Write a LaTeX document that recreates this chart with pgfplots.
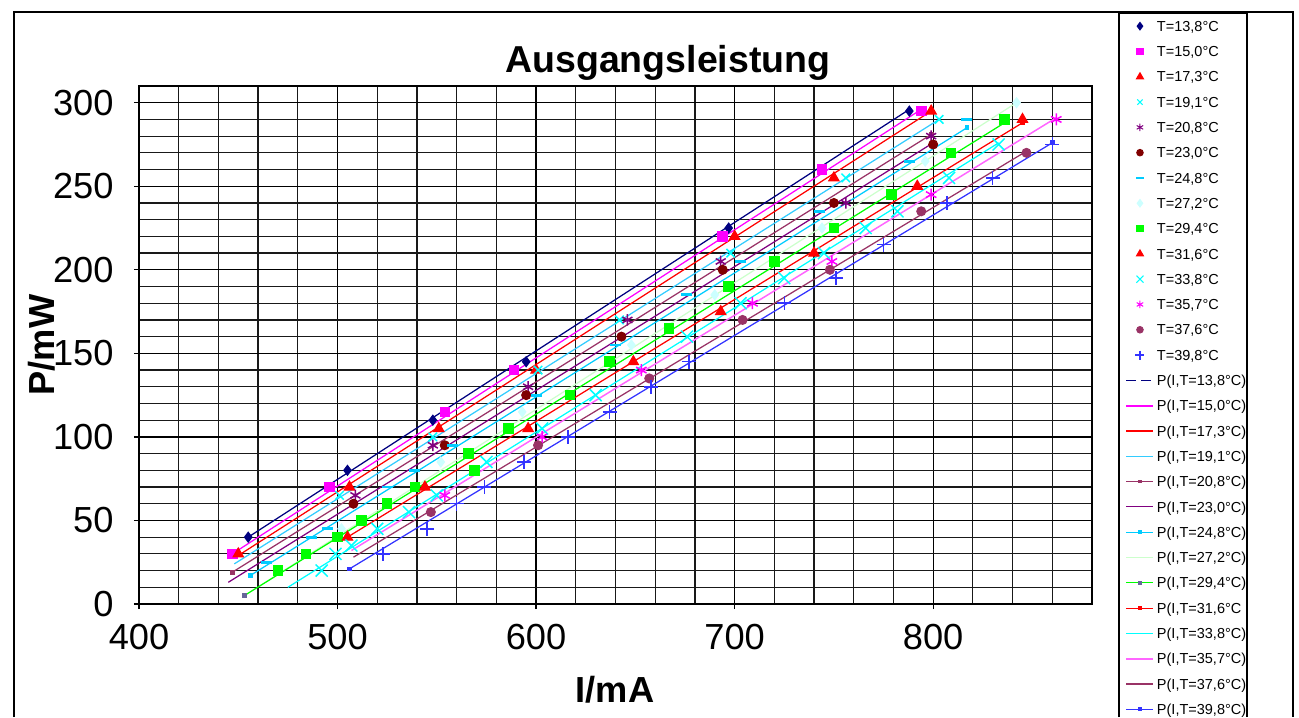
\documentclass[border=0pt]{standalone}
\usepackage{pgfplots}
\pgfplotsset{compat=1.18}
\usepackage{fontspec}
\setmainfont{Liberation Sans}

\definecolor{cnavy}{HTML}{000080}
\definecolor{cmag}{HTML}{FF00FF}
\definecolor{cred}{HTML}{FF0000}
\definecolor{ccyan}{HTML}{00FFFF}
\definecolor{csky}{HTML}{00CCFF}
\definecolor{csky2}{HTML}{33CCFF}
\definecolor{cpurple}{HTML}{800080}
\definecolor{cdred}{HTML}{800000}
\definecolor{cmauve}{HTML}{993366}
\definecolor{cpalecyan}{HTML}{CCFFFF}
\definecolor{cpalegreen}{HTML}{CCFFCC}
\definecolor{cgreen}{HTML}{00FF00}
\definecolor{cblue}{HTML}{3333FF}
\definecolor{cpink}{HTML}{FF66FF}
\definecolor{cgraymk}{HTML}{666699}

\begin{document}
\begin{tikzpicture}
\path[use as bounding box] (0,0) rectangle (519.6pt,286.8pt);
% chart frame and legend frame
\draw[line width=0.5pt] (5.6pt,0pt) -- (5.6pt,282pt) -- (517.2pt,282pt) -- (517.2pt,0pt);
\draw[line width=0.5pt] (447.6pt,0pt) -- (447.6pt,281.6pt) -- (498.8pt,281.6pt) -- (498.8pt,0pt);

\begin{axis}[
    at={(55.6pt,45.2pt)}, anchor=south west,
    scale only axis, width=381.2pt, height=207.2pt,
    xmin=400, xmax=880, ymin=0, ymax=310,
    xtick={400,500,600,700,800}, ytick={0,50,100,150,200,250,300},
    minor xtick={420,440,460,480,520,540,560,580,620,640,660,680,720,740,760,780,820,840,860},
    minor ytick={10,20,30,40,60,70,80,90,110,120,130,140,160,170,180,190,210,220,230,240,260,270,280,290,310},
    grid=both,
    major grid style={black, line width=0.5pt},
    minor grid style={black!90, line width=0.5pt},
    axis line style={black, line width=0.7pt},
    tick align=outside, tick pos=left,
    major tick length=2pt, minor tick length=0pt,
    tick style={black, line width=0.5pt},
    ticklabel style={font=\fontsize{14.5}{16}\selectfont},
    /pgf/number format/assume math mode=true,
    xticklabel style={anchor=north, inner sep=0pt, yshift=-6pt},
    yticklabel style={anchor=east, inner sep=0pt, xshift=-8pt},
    title={Ausgangsleistung},
    title style={at={(0.555,1.0153)}, anchor=center, yshift=0pt, font=\bfseries\fontsize{15}{17}\selectfont},
    xlabel={I/mA},
    xlabel style={at={(0.4995,-0.166)}, anchor=center, font=\bfseries\fontsize{14.5}{16}\selectfont},
    ylabel={P/mW},
    ylabel style={at={(-0.1018,0.5)}, anchor=center, font=\bfseries\fontsize{14.5}{16}\selectfont},
    legend style={at={(1.0283,1.1409)}, anchor=north west, draw=none, fill=none,
        inner xsep=2.4pt, inner ysep=0pt, row sep=0pt, column sep=1.0pt,
        font=\fontsize{5.8}{7}\selectfont,
        nodes={inner sep=0pt, text height=7.14pt, text depth=2.98pt}},
    legend cell align=left,
    legend image code/.code={\draw[mark repeat=2,mark phase=2] plot coordinates {(0pt,0pt) (5.4pt,0pt) (10.8pt,0pt)};},
]

% ---- fit lines ----
\addplot[forget plot, cnavy, line width=0.5pt] coordinates {(455,40) (788,296)};
\addplot[forget plot, cmag, line width=0.5pt] coordinates {(447,30) (794,296)};
\addplot[forget plot, cred, line width=0.5pt] coordinates {(450,29) (799,295)};
\addplot[forget plot, csky2, line width=0.5pt] coordinates {(448,24) (803,290)};
\addplot[forget plot, cmauve, line width=0.5pt, mark=square*, mark size=0.7pt] coordinates {(447,19) (799,281)};
\addplot[forget plot, cpurple, line width=0.5pt] coordinates {(445,13) (800,276)};
\addplot[forget plot, csky, line width=0.5pt, mark=square*, mark size=0.7pt] coordinates {(456,17) (817,285)};
\addplot[forget plot, cpalegreen, line width=0.5pt] coordinates {(461,11) (842,300)};
\addplot[forget plot, cgreen, line width=0.5pt, mark=square*, mark size=0.7pt, mark options={cgraymk}] coordinates {(453,5) (836,288)};
\addplot[forget plot, cred, line width=0.5pt, mark=square*, mark size=0.7pt] coordinates {(505,40) (845,288)};
\addplot[forget plot, ccyan, line width=0.5pt] coordinates {(475,10) (833,276)};
\addplot[forget plot, cpink, line width=0.6pt] coordinates {(507,32) (862,291)};
\addplot[forget plot, cmauve, line width=0.5pt] coordinates {(508,28) (847,271)};
\addplot[forget plot, cblue, line width=0.5pt, mark=square*, mark size=0.7pt] coordinates {(506,21) (860,276)};

% ---- measured points ----
\addplot[forget plot, only marks, mark=diamond*, mark size=2pt, cnavy] coordinates {
(455,40) (505,80) (548,110) (595,145) (697,225) (788,295)};
\addplot[forget plot, only marks, mark=square*, mark size=1.9pt, cmag] coordinates {
(447,30) (496,70) (554,115) (589,140) (694,220) (744,260) (794,295)};
\addplot[forget plot, only marks, mark=triangle*, mark size=2.4pt, cred] coordinates {
(450,30) (506,70) (551,105) (600,140) (700,220) (750,255) (799,295)};
\addplot[forget plot, only marks, mark=x, mark size=2.4pt, ccyan, line width=0.6pt] coordinates {
(501,65) (548,100) (601,140) (642,170) (698,210) (756,255) (803,290)};
\addplot[forget plot, only marks, mark=asterisk, mark size=2.3pt, cpurple, line width=0.6pt] coordinates {
(509,65) (548,95) (596,130) (646,170) (693,205) (756,240) (799,280)};
\addplot[forget plot, only marks, mark=*, mark size=1.8pt, cdred] coordinates {
(508,60) (554,95) (595,125) (643,160) (694,200) (750,240) (800,275)};
\addplot[forget plot, only marks, mark=-, mark size=2.2pt, csky, line width=1.1pt] coordinates {
(464,25) (487,40) (495,45) (525,70) (539,80) (558,95) (600,125) (640,155) (676,185) (703,205) (743,235) (788,265) (817,290)};
\addplot[forget plot, only marks, mark=diamond*, mark size=2pt, cpalecyan] coordinates {
(502,45) (552,85) (593,115) (648,155) (690,185) (744,225) (796,265) (842,300)};
\addplot[forget plot, only marks, mark=square*, mark size=1.9pt, cgreen] coordinates {
(470,20) (484,30) (500,40) (512,50) (525,60) (539,70) (566,90) (569,80) (586,105) (617,125) (637,145) (667,165) (697,190) (720,205) (750,225) (779,245) (809,270) (836,290)};
\addplot[forget plot, only marks, mark=triangle*, mark size=2.4pt, cred] coordinates {
(505,40) (544,70) (596,105) (649,145) (693,175) (740,210) (792,250) (845,290)};
\addplot[forget plot, only marks, mark=x, mark size=3.4pt, ccyan, line width=0.6pt] coordinates {
(492,20) (499,30) (507,35) (520,45) (536,55) (550,65) (575,85) (603,105) (630,125) (676,160) (703,180) (725,195) (745,210) (766,225) (782,235) (808,255) (833,275)};
\addplot[forget plot, only marks, mark=asterisk, mark size=2.4pt, cmag, line width=0.6pt] coordinates {
(554,65) (603,100) (653,140) (709,180) (749,205) (799,245) (862,290)};
\addplot[forget plot, only marks, mark=*, mark size=1.8pt, cmauve] coordinates {
(547,55) (601,95) (657,135) (704,170) (748,200) (794,235) (847,270)};
\addplot[forget plot, only marks, mark=+, mark size=2.8pt, cblue, line width=0.6pt] coordinates {
(523,30) (545,45) (560,60) (574,70) (594,85) (616,100) (637,115) (658,130) (677,145) (725,180) (751,195) (775,215) (807,240) (830,255) (860,275)};

% ---- legend ----
\addlegendimage{only marks, mark=diamond*, mark size=1.5pt, cnavy}
\addlegendentry{T=13,8°C}
\addlegendimage{only marks, mark=square*, mark size=1.3pt, cmag}
\addlegendentry{T=15,0°C}
\addlegendimage{only marks, mark=triangle*, mark size=1.6pt, cred}
\addlegendentry{T=17,3°C}
\addlegendimage{only marks, mark=x, mark size=1.5pt, ccyan}
\addlegendentry{T=19,1°C}
\addlegendimage{only marks, mark=asterisk, mark size=1.5pt, cpurple}
\addlegendentry{T=20,8°C}
\addlegendimage{only marks, mark=*, mark size=1.3pt, cdred}
\addlegendentry{T=23,0°C}
\addlegendimage{only marks, mark=-, mark size=1.5pt, csky, line width=0.8pt}
\addlegendentry{T=24,8°C}
\addlegendimage{only marks, mark=diamond*, mark size=1.5pt, cpalecyan}
\addlegendentry{T=27,2°C}
\addlegendimage{only marks, mark=square*, mark size=1.3pt, cgreen}
\addlegendentry{T=29,4°C}
\addlegendimage{only marks, mark=triangle*, mark size=1.6pt, cred}
\addlegendentry{T=31,6°C}
\addlegendimage{only marks, mark=x, mark size=2pt, ccyan}
\addlegendentry{T=33,8°C}
\addlegendimage{only marks, mark=asterisk, mark size=1.5pt, cmag}
\addlegendentry{T=35,7°C}
\addlegendimage{only marks, mark=*, mark size=1.3pt, cmauve}
\addlegendentry{T=37,6°C}
\addlegendimage{only marks, mark=+, mark size=1.8pt, cblue, line width=0.5pt}
\addlegendentry{T=39,8°C}
\addlegendimage{cnavy, line width=0.45pt, dash pattern=on 4pt off 2pt}
\addlegendentry{P(I,T=13,8°C)}
\addlegendimage{cmag, line width=0.8pt}
\addlegendentry{P(I,T=15,0°C)}
\addlegendimage{cred, line width=0.45pt}
\addlegendentry{P(I,T=17,3°C)}
\addlegendimage{csky2, line width=0.45pt}
\addlegendentry{P(I,T=19,1°C)}
\addlegendimage{cmauve, line width=0.45pt, mark=square*, mark size=0.5pt}
\addlegendentry{P(I,T=20,8°C)}
\addlegendimage{cpurple, line width=0.45pt}
\addlegendentry{P(I,T=23,0°C)}
\addlegendimage{csky, line width=0.45pt, mark=square*, mark size=0.5pt}
\addlegendentry{P(I,T=24,8°C)}
\addlegendimage{cpalegreen, line width=0.45pt}
\addlegendentry{P(I,T=27,2°C)}
\addlegendimage{cgreen, line width=0.45pt, mark=square*, mark size=0.6pt, mark options={cgraymk}}
\addlegendentry{P(I,T=29,4°C)}
\addlegendimage{cred, line width=0.45pt, mark=square*, mark size=0.5pt}
\addlegendentry{P(I,T=31,6°C}
\addlegendimage{ccyan, line width=0.45pt}
\addlegendentry{P(I,T=33,8°C)}
\addlegendimage{cpink, line width=0.8pt}
\addlegendentry{P(I,T=35,7°C)}
\addlegendimage{cmauve, line width=0.45pt}
\addlegendentry{P(I,T=37,6°C)}
\addlegendimage{cblue, line width=0.45pt, mark=square*, mark size=0.5pt}
\addlegendentry{P(I,T=39,8°C)}
\end{axis}
\end{tikzpicture}
\end{document}
